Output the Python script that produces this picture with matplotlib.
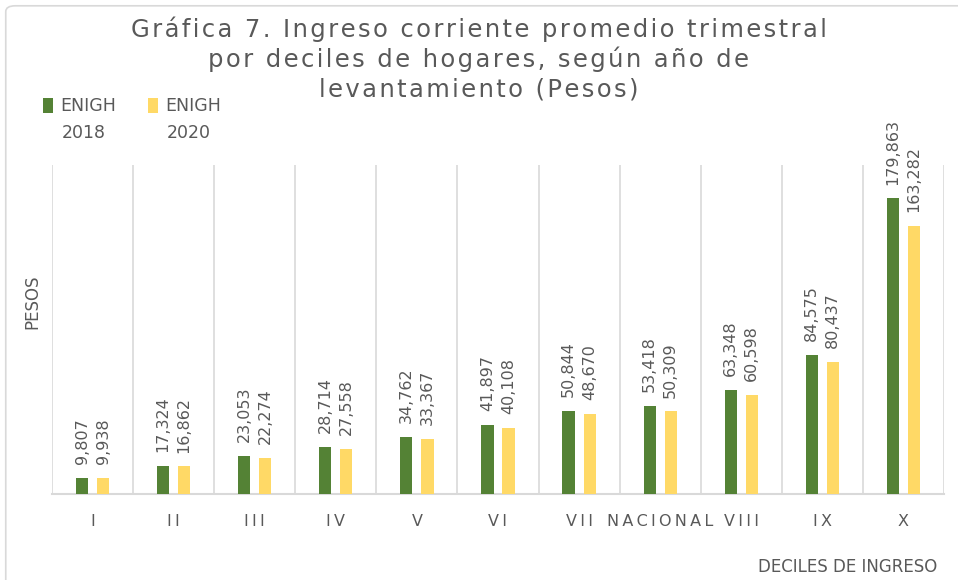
import matplotlib.pyplot as plt
import numpy as np
from matplotlib.patches import Rectangle, FancyBboxPatch

# Data
categories = ["I", "II", "III", "IV", "V", "VI", "VII", "NACIONAL", "VIII", "IX", "X"]
enigh_2018 = [9807, 17324, 23053, 28714, 34762, 41897, 50844, 53418, 63348, 84575, 179863]
enigh_2020 = [9938, 16862, 22274, 27558, 33367, 40108, 48670, 50309, 60598, 80437, 163282]
series_names = [("ENIGH", "2018"), ("ENIGH", "2020")]

green = "#548235"
yellow = "#FFD966"
gray_text = "#595959"
grid_gray = "#D9D9D9"


def spaced(s, sep="\u2009"):
    # mimic the wide letter spacing of the original
    return sep.join(s)


fig = plt.figure(figsize=(9.58, 5.8), dpi=100)

# outer chart border
border = FancyBboxPatch((0.006, -0.02), 1.1, 1.01, boxstyle="round,pad=0,rounding_size=0.01",
                        transform=fig.transFigure, facecolor="white",
                        edgecolor=grid_gray, linewidth=1.2, zorder=-5)
fig.patches.append(border)

ax = fig.add_axes([0.0543, 0.148, 0.931, 0.567])
ax.set_zorder(2)
ax.set_facecolor("none")

x = np.arange(len(categories))
w = 0.15
off = 0.13
b1 = ax.bar(x - off, enigh_2018, w, color=green, zorder=3)
b2 = ax.bar(x + off, enigh_2020, w, color=yellow, zorder=3)

for bars, vals in ((b1, enigh_2018), (b2, enigh_2020)):
    for bar, v in zip(bars, vals):
        ax.annotate(f"{v:,}", (bar.get_x() + bar.get_width() / 2, v),
                    xytext=(0, 10), textcoords="offset points",
                    rotation=90, ha="center", va="bottom",
                    fontsize=11.5, color=gray_text)

ax.set_xlim(-0.5, len(categories) - 0.5)
ax.set_ylim(0, 200000)

# category separators
for b in np.arange(-0.5, len(categories), 1.0):
    ax.axvline(b, color=grid_gray, linewidth=1.2, zorder=1)

ax.set_xticks(x)
ax.set_xticklabels([spaced(c) for c in categories], fontsize=11.5, color=gray_text)
ax.tick_params(axis="x", length=0, pad=14)
ax.set_yticks([])
for s in ["top", "left", "right"]:
    ax.spines[s].set_visible(False)
ax.spines["bottom"].set_color(grid_gray)
ax.spines["bottom"].set_linewidth(1.5)

# title, one line at a time
title_lines = ["Gráfica 7. Ingreso corriente promedio trimestral",
               "por deciles de hogares, según año de",
               "levantamiento (Pesos)"]
for i, line in enumerate(title_lines):
    fig.text(0.5, 1 - (29 + 30 * i) / 580, spaced(line, "\u200a"),
             ha="center", va="center", fontsize=17.5, color=gray_text)

# axis titles
fig.text(0.034, 0.48, "PESOS", rotation=90, ha="center", va="center", fontsize=12, color=gray_text)
fig.text(0.978, 0.022, "DECILES DE INGRESO", ha="right", va="center", fontsize=12, color=gray_text)

# legend
for i, ((l1, l2), col) in enumerate(zip(series_names, [green, yellow])):
    x0 = 43 / 958 + i * 105 / 958
    fig.patches.append(Rectangle((x0, 1 - 113 / 580), 10 / 958, 15 / 580,
                                 transform=fig.transFigure, facecolor=col, edgecolor="none"))
    fig.text(x0 + 17 / 958, 1 - 106 / 580, l1, ha="left", va="center",
             fontsize=12.5, color=gray_text)
    fig.text(x0 + 19 / 958, 1 - 133 / 580, l2, ha="left", va="center",
             fontsize=12.5, color=gray_text)

fig.savefig("out.png", dpi=100)
